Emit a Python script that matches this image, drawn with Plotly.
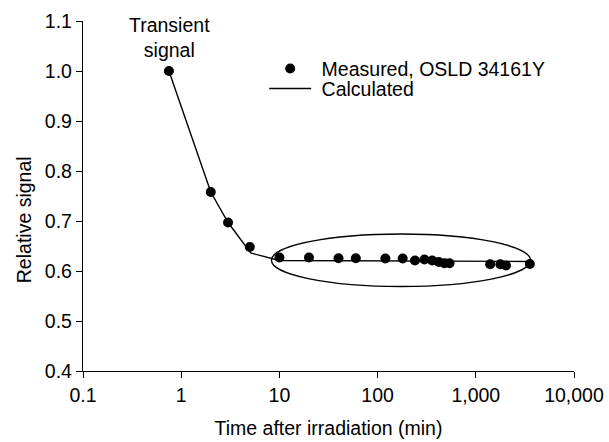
import plotly.graph_objects as go
import math

# Measured data (time in min, relative signal)
meas_time = [0.75, 2, 3, 5, 10, 20, 40, 60, 120, 180, 240, 300, 360, 420, 480, 540, 1400, 1780, 2030, 3550]
meas_signal = [1.0, 0.758, 0.697, 0.648, 0.627, 0.627, 0.6255, 0.6255, 0.625, 0.625, 0.621, 0.623, 0.621, 0.618, 0.6155, 0.6155, 0.6135, 0.6135, 0.611, 0.614]

# Calculated curve
calc_time = [0.75, 2, 3, 5.1, 10, 3600]
calc_signal = [1.0, 0.758, 0.697, 0.636, 0.621, 0.619]

x_tickvals = [0.1, 1, 10, 100, 1000, 10000]
x_ticktext = ["0.1", "1", "10", "100", "1,000", "10,000"]
y_tickvals = [0.4, 0.5, 0.6, 0.7, 0.8, 0.9, 1.0, 1.1]

FONT = "Liberation Sans, Arial, Helvetica, sans-serif"
FS = 19.5

fig = go.Figure()
fig.add_trace(go.Scatter(
    x=calc_time, y=calc_signal, mode="lines", name="\u00a0Calculated",
    line=dict(color="black", width=1.4), legend="legend2"))
fig.add_trace(go.Scatter(
    x=meas_time, y=meas_signal, mode="markers", name="\u00a0Measured, OSLD 34161Y",
    marker=dict(color="black", size=10), legend="legend"))

# ellipse around the plateau
fig.add_shape(type="circle", xref="x", yref="y",
              x0=8.3, x1=3610, y0=0.569, y1=0.674,
              line=dict(color="black", width=1.4))

fig.add_annotation(x=math.log10(0.76), y=1.067, xref="x", yref="y",
                   text="Transient<br>signal", showarrow=False,
                   font=dict(size=FS, color="black", family=FONT))

fig.add_annotation(x=-0.1196, y=0.4316, xref="paper", yref="paper",
                   xanchor="center", yanchor="middle",
                   text="Relative signal", textangle=-90, showarrow=False,
                   font=dict(size=FS, color="black", family=FONT))

axis_common = dict(showgrid=False, zeroline=False, showline=True, linecolor="black",
                   linewidth=1.3, ticks="outside", ticklen=6, tickwidth=1.3,
                   tickcolor="black", automargin=False,
                   tickfont=dict(size=FS, color="black", family=FONT))

fig.update_xaxes(type="log", range=[-1, 4], tickvals=x_tickvals, ticktext=x_ticktext,
                 title=dict(text="Time after irradiation (min)",
                            font=dict(size=FS, color="black", family=FONT), standoff=16),
                 **axis_common)
fig.update_yaxes(range=[0.4, 1.1], tickvals=y_tickvals, tickformat=".1f", **axis_common)

legend_common = dict(bgcolor="rgba(0,0,0,0)", borderwidth=0, itemwidth=42,
                     font=dict(size=FS, color="black", family=FONT),
                     xanchor="left", yanchor="top")
fig.update_layout(
    width=609, height=442,
    margin=dict(l=83, r=35, t=21, b=71, autoexpand=False),
    plot_bgcolor="white", paper_bgcolor="white",
    font=dict(family=FONT, size=FS, color="black"),
    showlegend=True,
    legend=dict(x=0.369, y=0.919, **legend_common),
    legend2=dict(x=0.369, y=0.862, **legend_common),
)

fig.write_html("out.html", config={"displayModeBar": False},
               post_script="document.body.style.margin='0';")
